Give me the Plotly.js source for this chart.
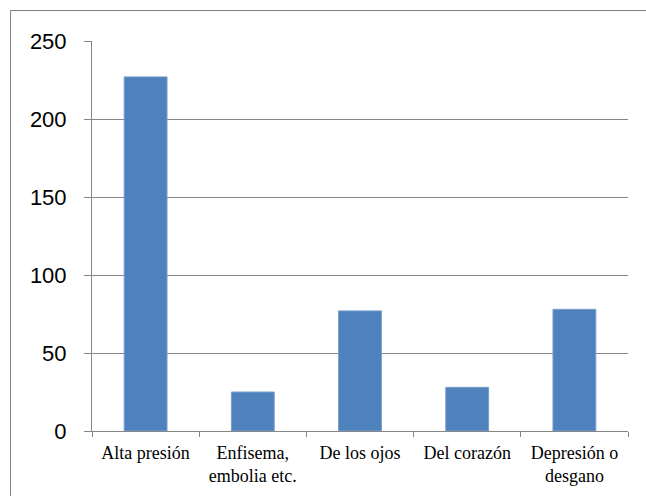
<!DOCTYPE html>
<html>
<head>
<meta charset="utf-8">
<script src="https://cdn.plot.ly/plotly-3.0.1.min.js"></script>
<style>
html,body{margin:0;padding:0;background:#fff;}
#chart{width:646px;height:496px;}
</style>
</head>
<body>
<div id="chart"></div>
<script>
var categories = ["Alta presión", "Enfisema,<br>embolia etc.", "De los ojos", "Del corazón", "Depresión o<br>desgano"];
var values = [227, 25, 77, 28, 78];
var yTickVals = [0, 50, 100, 150, 200, 250];

var trace = {
  type: 'bar',
  x: categories,
  y: values,
  marker: {color: '#4F81BD', line: {color: '#7A9FD0', width: 1}},
  hoverinfo: 'none'
};

var W = 646, H = 496;
var ml = 92, mr = 17.5, mt = 41, mb = 65;
var pw = W - ml - mr, ph = H - mt - mb;
var bx = (10.5 - ml) / pw;
var by = (H - mb - 10.5) / ph;

var layout = {
  width: W, height: H,
  margin: {l: ml, r: mr, t: mt, b: mb, pad: 0},
  paper_bgcolor: '#fff',
  plot_bgcolor: '#fff',
  showlegend: false,
  bargap: 0.6,
  xaxis: {
    type: 'category',
    showline: true, linecolor: '#868686', linewidth: 1,
    ticks: 'outside', ticklen: 5, tickcolor: '#868686', tickwidth: 1,
    tickson: 'boundaries',
    showgrid: false,
    tickfont: {family: 'Liberation Serif', size: 18, color: '#000'},
    ticklabelstandoff: 5,
    fixedrange: true
  },
  yaxis: {
    range: [0, 250],
    tickvals: yTickVals,
    ticktext: yTickVals.map(String),
    showline: true, linecolor: '#868686', linewidth: 1,
    ticks: 'outside', ticklen: 7, tickcolor: '#868686', tickwidth: 1,
    showgrid: true, gridcolor: '#868686', gridwidth: 1,
    zeroline: false,
    tickfont: {family: 'Liberation Sans', size: 22, color: '#000'},
    ticklabelstandoff: 13,
    fixedrange: true
  },
  shapes: [{
    type: 'rect', xref: 'paper', yref: 'paper',
    x0: bx, x1: 1.5, y0: -0.5, y1: by,
    line: {color: '#808080', width: 1}, fillcolor: 'rgba(0,0,0,0)', layer: 'below'
  }]
};

Plotly.newPlot('chart', [trace], layout, {staticPlot: true, displayModeBar: false});
</script>
</body>
</html>
